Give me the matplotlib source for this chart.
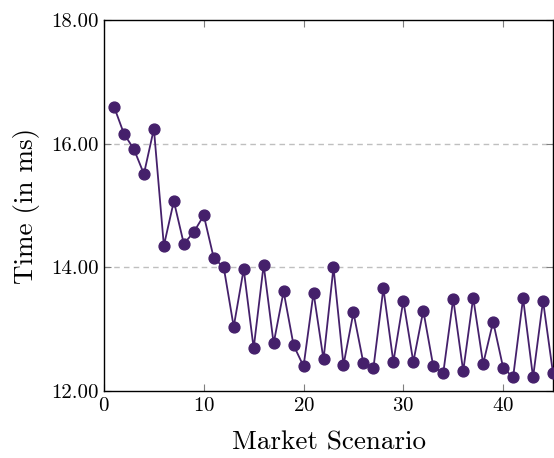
import matplotlib
matplotlib.use("Agg")
import matplotlib.pyplot as plt
from matplotlib.ticker import FormatStrFormatter

plt.rcParams['font.family'] = 'serif'
plt.rcParams['font.serif'] = ['cmr10', 'DejaVu Serif']
plt.rcParams['mathtext.fontset'] = 'cm'
plt.rcParams['axes.formatter.use_mathtext'] = True

scenarios = list(range(1, 46))
times = [16.60, 16.16, 15.91, 15.51, 16.24, 14.35, 15.07, 14.38, 14.57, 14.84,
         14.15, 14.00, 13.04, 13.97, 12.69, 14.04, 12.77, 13.61, 12.74, 12.40,
         13.59, 12.51, 14.00, 12.42, 13.27, 12.45, 12.37, 13.66, 12.47, 13.46,
         12.47, 13.30, 12.40, 12.29, 13.49, 12.32, 13.51, 12.44, 13.12, 12.38,
         12.22, 13.50, 12.22, 13.46, 12.29]

xticks = [0, 10, 20, 30, 40]
yticks = [12, 14, 16, 18]

fig = plt.figure(figsize=(5.54, 4.58), dpi=100)
ax = fig.add_axes([104/554, 1-391/458, 449/554, 371/458])

color = '#45206b'
ax.plot(scenarios, times, color=color, lw=1.3, marker='o', markersize=7.8,
        markerfacecolor=color, markeredgecolor=color, zorder=3)

ax.set_xlim(0, 45)
ax.set_ylim(12, 18)
ax.set_xticks(xticks)
ax.set_yticks(yticks)
ax.yaxis.set_major_formatter(FormatStrFormatter('%.2f'))
ax.tick_params(direction='in', length=5, width=0.8, color='#7f7f7f',
               top=True, right=True, labelsize=15, pad=4)
for s in ax.spines.values():
    s.set_linewidth(1.0)
    s.set_color('black')

for y in [14, 16]:
    ax.axhline(y, color='#bfbfbf', lw=1.0, ls=(0, (4, 3)), zorder=1)

ax.set_xlabel('Market Scenario', fontsize=19.5, labelpad=12)
ax.set_ylabel('Time (in ms)', fontsize=19.5, labelpad=8)

fig.savefig('out.png', dpi=100)
